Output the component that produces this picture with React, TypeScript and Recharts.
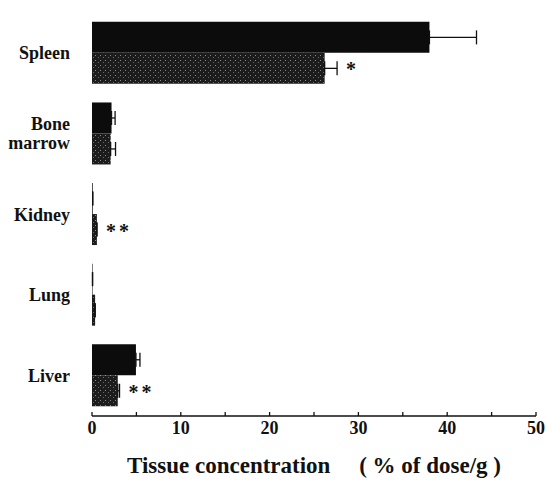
import { Bar, BarChart, ErrorBar, LabelList, XAxis, YAxis, Label } from 'recharts'

const organs = ['Spleen', 'Bone marrow', 'Kidney', 'Lung', 'Liver']
const controlValues = [38.0, 2.2, 0.08, 0.06, 4.95]
const controlErr = [5.3, 0.4, 0, 0, 0.45]
const treatedValues = [26.2, 2.1, 0.55, 0.35, 2.9]
const treatedErr = [1.4, 0.55, 0, 0, 0.2]
const significance = ['*', '', '**', '', '**']
const xTicks = [0, 5, 10, 15, 20, 25, 30, 35, 40, 45, 50]

const data = organs.map((name, i) => ({
  name,
  control: controlValues[i],
  controlErr: [0, controlErr[i]],
  treated: treatedValues[i],
  treatedErr: [0, treatedErr[i]],
  sig: significance[i],
}))

const FONT = 'Liberation Serif'

function OrganTick(props: { x?: number; y?: number; payload?: { value: string } }) {
  const { x = 0, y = 0, payload } = props
  const words = payload?.value === 'Bone marrow' ? ['Bone', 'marrow'] : [payload?.value ?? '']
  const lh = 19
  const start = y - ((words.length - 1) * lh) / 2
  return (
    <text
      x={x - 14}
      y={start}
      textAnchor="end"
      dominantBaseline="central"
      fontFamily={FONT}
      fontWeight="bold"
      fontSize={18}
      fill="#111"
    >
      {words.map((w, i) => (
        <tspan key={w} x={x - 14} dy={i === 0 ? 0 : lh}>
          {w}
        </tspan>
      ))}
    </text>
  )
}

function ValueTick(props: { x?: number; y?: number; payload?: { value: number } }) {
  const { x = 0, y = 0, payload } = props
  const v = payload?.value ?? 0
  return (
    <g>
      <line x1={x} x2={x} y1={y} y2={y - 4} stroke="#111" strokeWidth={1.3} />
      {v % 10 === 0 && (
        <text x={x} y={y + 18} textAnchor="middle" fontFamily={FONT} fontWeight="bold" fontSize={18} fill="#111">
          {v}
        </text>
      )}
    </g>
  )
}

function SigLabel(props: any) {
  const { x, y, width, height, index } = props
  const s = significance[index]
  if (!s) return null
  const v = treatedValues[index]
  const tip = x + width * (1 + treatedErr[index] / v)
  return (
    <text
      x={tip + 9}
      y={y + height / 2 + 8}
      fontFamily={FONT}
      fontWeight="bold"
      fontSize={20}
      letterSpacing={3}
      fill="#111"
    >
      {s}
    </text>
  )
}

export default function App() {
  return (
    <div style={{ position: 'absolute', left: 0, top: 0, background: '#fff' }}>
      <BarChart
        width={546}
        height={482}
        data={data}
        layout="vertical"
        margin={{ top: 13, right: 10, bottom: 0, left: 0 }}
        barCategoryGap="11%"
        barGap={0}
      >
        <defs>
          <pattern id="stipple" width="5" height="5" patternUnits="userSpaceOnUse">
            <rect width="5" height="5" fill="#1c1c1c" />
            <rect x="0" y="0" width="1" height="1" fill="#8a8a8a" />
            <rect x="3" y="2" width="1" height="1" fill="#6a6a6a" />
          </pattern>
        </defs>
        <YAxis
          yAxisId="frame"
          type="number"
          domain={[0, 5]}
          ticks={[0, 1, 2, 3, 4, 5]}
          width={0}
          tick={false}
          tickSize={4}
          axisLine={{ stroke: '#111', strokeWidth: 1.5 }}
          tickLine={{ stroke: '#111', strokeWidth: 1.5 }}
        />
        <YAxis
          type="category"
          dataKey="name"
          width={92}
          axisLine={false}
          tickLine={false}
          tick={<OrganTick />}
        />
        <XAxis
          type="number"
          domain={[0, 50]}
          ticks={xTicks}
          interval={0}
          height={66}
          tickSize={0}
          tickMargin={0}
          tick={<ValueTick />}
          axisLine={{ stroke: '#111', strokeWidth: 1.5 }}
          tickLine={false}
        >
          <Label
            value={'Tissue concentration \u3000( % of dose/g )'}
            position="insideBottom"
            offset={9}
            fontFamily={FONT}
            fontWeight="bold"
            fontSize={23}
            fill="#111"
          />
        </XAxis>
        <Bar dataKey="control" fill="#0c0c0c" isAnimationActive={false}>
          <ErrorBar dataKey="controlErr" direction="x" width={7} stroke="#111" strokeWidth={1.3} />
        </Bar>
        <Bar dataKey="treated" fill="url(#stipple)" isAnimationActive={false}>
          <ErrorBar dataKey="treatedErr" direction="x" width={7} stroke="#111" strokeWidth={1.3} />
          <LabelList dataKey="sig" content={<SigLabel />} />
        </Bar>
      </BarChart>
    </div>
  )
}
